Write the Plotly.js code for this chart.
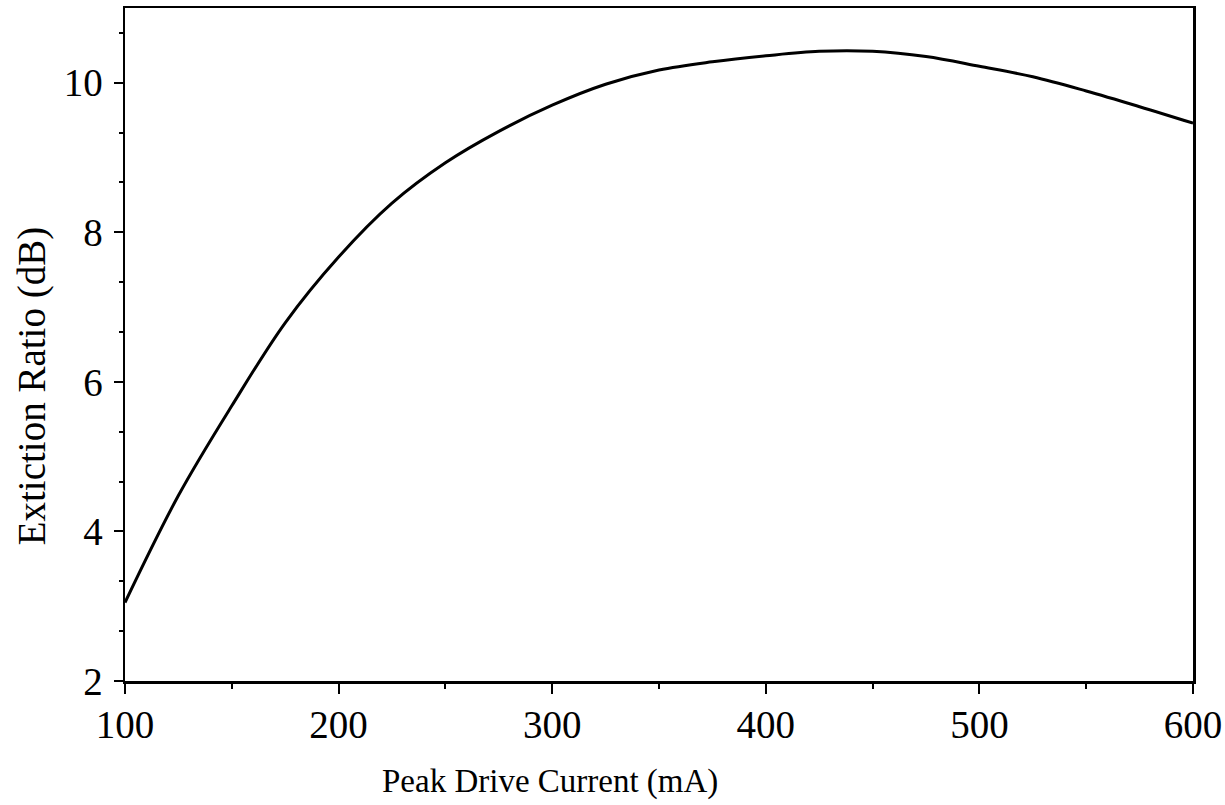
<!DOCTYPE html>
<html>
<head>
<meta charset="utf-8">
<script src="https://cdn.plot.ly/plotly-3.0.1.min.js"></script>
<style>
  html, body { margin: 0; padding: 0; background: #ffffff; }
  #chart { width: 1225px; height: 805px; }
</style>
</head>
<body>
<div id="chart"></div>
<script>
// Peak drive current (mA)
const currentMA = [100, 125, 150, 175, 200, 225, 250, 275, 300, 325, 350,
                   375, 400, 425, 450, 475, 500, 525, 550, 575, 600];
// Extinction ratio (dB)
const extinctionDB = [3.05, 4.48, 5.68, 6.79, 7.67, 8.39, 8.93, 9.35, 9.70, 9.98, 10.17,
                      10.28, 10.36, 10.42, 10.42, 10.35, 10.22, 10.08, 9.89, 9.68, 9.46];

const xTickVals = [100, 200, 300, 400, 500, 600];
const yTickVals = [2, 4, 6, 8, 10];

const serif = 'Liberation Serif, Times New Roman, serif';

const trace = {
  x: currentMA,
  y: extinctionDB,
  type: 'scatter',
  mode: 'lines',
  line: { color: '#000000', width: 3, shape: 'spline', smoothing: 1 },
  hoverinfo: 'x+y'
};

const layout = {
  width: 1225,
  height: 805,
  margin: { l: 125, r: 32, t: 8, b: 124 },
  paper_bgcolor: '#ffffff',
  plot_bgcolor: '#ffffff',
  showlegend: false,
  font: { family: serif, color: '#000000' },
  xaxis: {
    range: [100, 600],
    tickmode: 'array',
    tickvals: xTickVals,
    ticktext: xTickVals.map(String),
    ticks: 'outside',
    ticklen: 10,
    tickwidth: 2,
    tickcolor: '#000000',
    minor: { dtick: 50, tick0: 100, ticks: 'outside', ticklen: 5, tickwidth: 2, tickcolor: '#000000' },
    tickfont: { family: serif, size: 39, color: '#000000' },
    ticklabelstandoff: -2,
    showgrid: false,
    zeroline: false,
    showline: true,
    linecolor: '#000000',
    linewidth: 2.5,
    mirror: true
  },
  yaxis: {
    range: [2, 11],
    tickmode: 'array',
    tickvals: yTickVals,
    ticktext: yTickVals.map(String),
    ticks: 'outside',
    ticklen: 9,
    tickwidth: 2,
    tickcolor: '#000000',
    minor: { dtick: 2 / 3, tick0: 2, ticks: 'outside', ticklen: 4, tickwidth: 2, tickcolor: '#000000' },
    tickfont: { family: serif, size: 39, color: '#000000' },
    ticklabelstandoff: 3,
    showgrid: false,
    zeroline: false,
    showline: true,
    linecolor: '#000000',
    linewidth: 2.5,
    mirror: true
  },
  annotations: [
    {
      text: 'Peak Drive Current (mA)',
      xref: 'paper', yref: 'paper',
      x: 0.398, y: -0.150,
      xanchor: 'center', yanchor: 'middle',
      showarrow: false,
      font: { family: serif, size: 33, color: '#000000' }
    },
    {
      text: 'Extiction Ratio (dB)',
      xref: 'paper', yref: 'paper',
      x: -0.087, y: 0.438,
      xanchor: 'center', yanchor: 'middle',
      textangle: -90,
      showarrow: false,
      font: { family: serif, size: 39, color: '#000000' }
    }
  ]
};

Plotly.newPlot('chart', [trace], layout, { displayModeBar: false, staticPlot: true });
</script>
</body>
</html>
